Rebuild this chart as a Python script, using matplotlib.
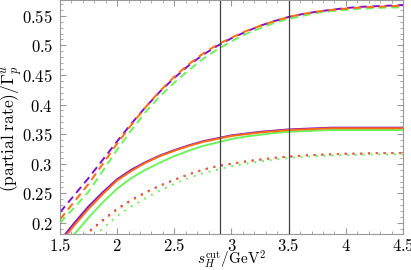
import numpy as np
import matplotlib
matplotlib.use("Agg")
import matplotlib.pyplot as plt
from matplotlib.ticker import MultipleLocator, FuncFormatter

plt.rcParams['mathtext.fontset'] = 'cm'

# s_H^cut values (GeV^2)
s_cut = [1.5, 1.625, 1.75, 1.875, 2.0, 2.125, 2.25, 2.375, 2.5, 2.625, 2.75, 2.875,
         3.0, 3.125, 3.25, 3.375, 3.5, 3.625, 3.75, 3.875, 4.0, 4.125, 4.25, 4.375, 4.5]

# dashed curves
dash_purple = [.218, .247, .276, .307, .338, .368, .396, .422, .445, .466, .484, .499, .512,
               .523, .533, .541, .548, .553, .557, .560, .563, .565, .566, .567, .568]
dash_orange = [.206, .236, .266, .300, .334, .366, .396, .423, .447, .468, .486, .501, .513,
               .524, .533, .541, .548, .553, .557, .560, .562, .564, .565, .566, .567]
dash_green = [.200, .226, .253, .288, .324, .357, .388, .414, .437, .458, .477, .493, .507,
              .519, .529, .538, .545, .550, .555, .558, .560, .562, .563, .564, .564]

# solid curves
solid_purple = [.170, .200, .228, .252, .274, .290, .303, .314, .323, .331, .338, .343, .348,
                .351, .354, .356, .358, .359, .360, .361, .361, .361, .361, .361, .361]
solid_orange = [.166, .196, .224, .249, .272, .288, .302, .313, .322, .330, .337, .342, .347,
                .350, .353, .355, .357, .358, .359, .360, .360, .360, .360, .360, .360]
solid_green = [.152, .181, .209, .235, .258, .276, .290, .302, .313, .322, .330, .336, .342,
               .346, .349, .352, .354, .355, .356, .357, .357, .357, .357, .357, .357]

# dotted curves
dot_purple = [.146, .166, .185, .205, .224, .239, .252, .263, .273, .282, .290, .296, .300,
              .304, .307, .310, .312, .314, .315, .316, .317, .317, .318, .318, .318]
dot_orange = [.145, .165, .184, .204, .223, .238, .251, .263, .273, .282, .290, .296, .300,
              .304, .307, .310, .312, .314, .315, .316, .317, .317, .318, .318, .318]
dot_green = [.125, .148, .170, .191, .212, .228, .242, .255, .266, .276, .284, .290, .296,
             .300, .304, .307, .310, .312, .313, .314, .315, .315, .316, .316, .316]

cut_lines = [2.9, 3.5]

purple = '#7d10d0'
orange = '#ff6a10'
green = '#6cf25a'

fig = plt.figure(figsize=(4.11, 2.70), dpi=100)
ax = fig.add_axes([60/411, 36/270, 343/411, 234/270])

lw = 1.4
for ys, c in [(solid_green, green), (solid_purple, purple), (solid_orange, orange)]:
    ax.plot(s_cut, ys, color=c, lw=lw, ls='-')
for ys, c in [(dash_green, green), (dash_purple, purple), (dash_orange, orange)]:
    ax.plot(s_cut, ys, color=c, lw=lw, ls=(0, (4, 2.5)))
for ys, c in [(dot_green, green), (dot_purple, purple), (dot_orange, orange)]:
    ax.plot(s_cut, ys, color=c, lw=lw, ls=(0, (1, 3)))

for xc in cut_lines:
    ax.axvline(xc, color='#444444', lw=0.9)

ax.set_xlim(1.5, 4.5)
ax.set_ylim(0.1814, 0.5766)
ax.xaxis.set_major_locator(MultipleLocator(0.5))
ax.xaxis.set_minor_locator(MultipleLocator(0.1))
ax.yaxis.set_major_locator(MultipleLocator(0.05))
ax.yaxis.set_minor_locator(MultipleLocator(0.01))

def fmt(v, pos):
    s = ('%.2f' % v).rstrip('0').rstrip('.')
    return r'$\mathbf{%s}$' % s

ax.xaxis.set_major_formatter(FuncFormatter(fmt))
ax.yaxis.set_major_formatter(FuncFormatter(fmt))
ax.tick_params(which='both', direction='in', top=True, right=True, color='#999999', labelsize=12)
ax.tick_params(which='major', length=4)
ax.tick_params(which='minor', length=2)
ax.tick_params(axis='x', which='major', pad=2.5)
ax.tick_params(axis='y', which='major', pad=5)
for sp in ax.spines.values():
    sp.set_color('#999999')

ax.set_xlabel(r'$s_H^{\mathrm{cut}}/\mathrm{GeV}^2$', fontsize=11)
ax.set_ylabel(r'$(\mathrm{partial\ rate})/\Gamma_p^u$', fontsize=12.5)
ax.xaxis.set_label_coords(0.5, -0.062)
ax.yaxis.set_label_coords(-0.106, 0.453)

fig.savefig('out.png', dpi=100)
